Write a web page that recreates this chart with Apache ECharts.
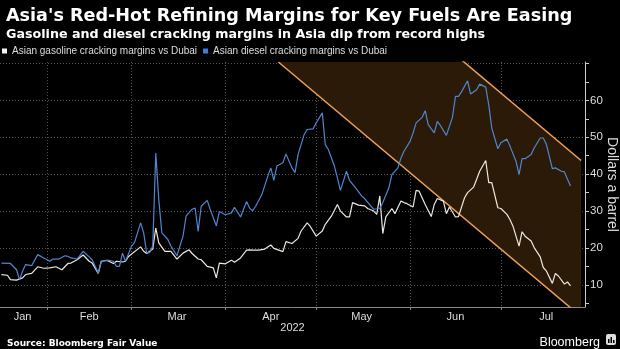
<!DOCTYPE html>
<html><head><meta charset="utf-8">
<script src="https://cdn.jsdelivr.net/npm/echarts@6/dist/echarts.min.js"></script>
<style>html,body{margin:0;padding:0;background:#000;}#c{width:620px;height:349px;}</style>
</head><body><div id="c"></div>
<script>
const gasolineDates = ['2022-01-17','2022-01-19','2022-01-20','2022-01-22','2022-01-24','2022-01-25','2022-01-27','2022-01-29','2022-01-31','2022-02-02','2022-02-04','2022-02-06','2022-02-08','2022-02-09','2022-02-11','2022-02-13','2022-02-15','2022-02-16','2022-02-18','2022-02-19','2022-02-21','2022-02-23','2022-02-24','2022-02-26','2022-02-27','2022-02-28','2022-03-04','2022-03-05','2022-03-06','2022-03-08','2022-03-09','2022-03-10','2022-03-12','2022-03-14','2022-03-16','2022-03-18','2022-03-20','2022-03-21','2022-03-23','2022-03-24','2022-03-26','2022-03-28','2022-03-29','2022-03-30','2022-04-01','2022-04-03','2022-04-04','2022-04-06','2022-04-08','2022-04-09','2022-04-10','2022-04-12','2022-04-14','2022-04-16','2022-04-17','2022-04-20','2022-04-21','2022-04-23','2022-04-25','2022-04-26','2022-04-28','2022-04-29','2022-05-01','2022-05-03','2022-05-04','2022-05-06','2022-05-08','2022-05-09','2022-05-11','2022-05-12','2022-05-13','2022-05-15','2022-05-17','2022-05-18','2022-05-20','2022-05-21','2022-05-22','2022-05-23','2022-05-24','2022-05-26','2022-05-27','2022-05-29','2022-05-30','2022-05-31','2022-06-02','2022-06-03','2022-06-04','2022-06-06','2022-06-08','2022-06-09','2022-06-10','2022-06-12','2022-06-13','2022-06-14','2022-06-16','2022-06-17','2022-06-19','2022-06-20','2022-06-22','2022-06-23','2022-06-24','2022-06-26','2022-06-27','2022-06-28','2022-06-30','2022-07-01','2022-07-03','2022-07-04','2022-07-05','2022-07-07','2022-07-08','2022-07-09','2022-07-11','2022-07-12','2022-07-14','2022-07-15','2022-07-16','2022-07-18','2022-07-19','2022-07-20','2022-07-22','2022-07-23','2022-07-24'];
const gasolineValues = [12.8,12.6,11.4,11.3,11.9,12.8,13.1,14.9,14.5,14.6,14.9,14.1,15.8,15.9,16.8,18.1,16.4,15.9,13.1,16.4,16.6,15.8,16.4,16.2,16.4,17.7,20.3,19.1,18.5,19.7,25.4,21.4,19.1,19.1,17.0,18.6,19.5,18.5,17.0,16.8,15.0,14.6,11.9,15.9,15.7,16.7,16.1,17.3,19.4,19.5,19.4,19.4,19.7,20.8,19.9,19.0,21.7,21.2,22.6,24.6,26.8,25.9,23.2,24.6,26.4,28.6,31.8,30.0,28.4,28.4,32.3,31.6,31.4,30.7,30.0,29.1,34.1,23.9,28.4,30.7,29.3,32.7,32.3,32.0,31.1,35.6,35.4,31.8,28.5,31.8,33.4,32.7,29.3,31.1,28.4,28.5,33.6,35.0,36.5,38.6,40.8,43.7,37.7,37.7,30.9,30.7,29.1,27.7,25.9,20.5,24.4,23.2,21.9,20.1,17.6,14.7,13.8,10.4,13.1,12.4,10.2,10.8,9.7];
const dieselDates = ['2022-01-17','2022-01-20','2022-01-22','2022-01-23','2022-01-24','2022-01-25','2022-01-27','2022-01-29','2022-01-31','2022-02-02','2022-02-03','2022-02-05','2022-02-07','2022-02-08','2022-02-09','2022-02-11','2022-02-13','2022-02-15','2022-02-16','2022-02-18','2022-02-19','2022-02-21','2022-02-23','2022-02-24','2022-02-25','2022-02-26','2022-02-27','2022-03-01','2022-03-02','2022-03-04','2022-03-05','2022-03-06','2022-03-07','2022-03-08','2022-03-09','2022-03-10','2022-03-11','2022-03-13','2022-03-14','2022-03-16','2022-03-18','2022-03-19','2022-03-21','2022-03-22','2022-03-23','2022-03-24','2022-03-26','2022-03-27','2022-03-29','2022-03-30','2022-04-01','2022-04-03','2022-04-04','2022-04-06','2022-04-08','2022-04-09','2022-04-10','2022-04-11','2022-04-13','2022-04-15','2022-04-16','2022-04-17','2022-04-18','2022-04-20','2022-04-21','2022-04-23','2022-04-24','2022-04-25','2022-04-27','2022-04-28','2022-04-30','2022-05-01','2022-05-03','2022-05-04','2022-05-05','2022-05-07','2022-05-08','2022-05-09','2022-05-11','2022-05-12','2022-05-14','2022-05-16','2022-05-17','2022-05-19','2022-05-20','2022-05-22','2022-05-23','2022-05-25','2022-05-26','2022-05-28','2022-05-29','2022-05-30','2022-06-01','2022-06-02','2022-06-03','2022-06-05','2022-06-06','2022-06-07','2022-06-09','2022-06-10','2022-06-11','2022-06-13','2022-06-15','2022-06-16','2022-06-17','2022-06-18','2022-06-20','2022-06-21','2022-06-23','2022-06-24','2022-06-26','2022-06-27','2022-06-28','2022-06-30','2022-07-01','2022-07-03','2022-07-04','2022-07-06','2022-07-07','2022-07-08','2022-07-09','2022-07-11','2022-07-12','2022-07-14','2022-07-15','2022-07-16','2022-07-18','2022-07-19','2022-07-21','2022-07-22','2022-07-23','2022-07-24'];
const dieselValues = [15.9,15.8,14.1,11.4,13.7,15.5,15.2,18.2,17.3,16.4,17.0,17.0,17.9,17.7,17.3,17.0,19.1,17.6,16.8,13.2,16.4,16.7,16.4,15.0,15.0,18.6,16.4,20.5,21.5,26.8,24.1,18.6,18.8,20.5,45.7,33.1,24.1,22.3,20.5,17.9,23.2,28.6,30.5,30.8,24.5,31.3,32.9,30.4,26.0,29.9,29.0,29.5,31.0,28.4,32.6,30.8,30.1,31.3,34.4,39.4,41.7,38.3,42.2,43.1,45.5,41.7,40.4,45.3,50.7,52.1,52.3,53.9,56.6,48.0,46.7,42.2,39.0,35.6,40.8,38.3,36.3,34.1,33.4,31.4,30.5,30.7,32.3,36.3,39.9,41.7,44.4,46.2,48.9,51.2,53.9,55.4,57.2,53.4,51.2,54.3,53.2,50.5,55.4,61.1,61.1,62.3,65.3,61.7,62.9,64.4,63.6,58.8,52.5,46.9,48.5,49.5,47.6,43.5,39.9,44.2,44.2,45.3,47.1,49.8,49.8,48.2,41.5,41.7,40.8,40.6,38.6,36.8];
const bandDates = ['2022-04-18 12:00','2022-07-27 12:00'];
const bandLowerValues = [70.4, 1.4];
const bandUpperValues = [112.7, 43.7];
const monthTickDates = ['2022-02-01','2022-03-01','2022-04-01','2022-05-01','2022-06-01','2022-07-01'];
const monthLabelDates = ['2022-01-24','2022-02-15','2022-03-16','2022-04-16','2022-05-16','2022-06-16','2022-07-16'];
const monthNames = ['Jan','Feb','Mar','Apr','May','Jun','Jul','Aug','Sep','Oct','Nov','Dec'];
const yLabelValues = [10,20,30,40,50,60];
const yTickValues = [5,10,15,20,25,30,35,40,45,50,55,60,65,70];
const yGridValues = [10,20,30,40,50,60,70];
const xRange = ['2022-01-16 13:00','2022-07-28 19:00'];
const yRange = [4.0, 70.4];

function ts(s){
  const parts = s.split(' ');
  const [y,m,d] = parts[0].split('-').map(Number);
  let h = 0, mi = 0;
  if (parts[1]) { [h, mi] = parts[1].split(':').map(Number); }
  return new Date(y, m-1, d, h, mi).getTime();
}
const pair = (dates, vals) => dates.map((d,i) => [ts(d), vals[i]]);

const chart = echarts.init(document.getElementById('c'));
const orange = '#eda05a';
const gridColor = '#555';
chart.setOption({
  backgroundColor: '#000',
  animation: false,
  title: [
    {text: "Asia's Red-Hot Refining Margins for Key Fuels Are Easing", left: 1, top: 2,
     textStyle: {color:'#fff', fontFamily:'DejaVu Sans', fontWeight:'bold', fontSize:17.6}},
    {text: 'Gasoline and diesel cracking margins in Asia dip from record highs', left: 1, top: 23,
     textStyle: {color:'#fff', fontFamily:'DejaVu Sans', fontWeight:'bold', fontSize:12.7}},
    {text: 'Source: Bloomberg Fair Value', left: 2, top: 334,
     textStyle: {color:'#fff', fontFamily:'DejaVu Sans', fontWeight:'bold', fontSize:9}},
    {text: 'Bloomberg', right: 15, top: 331,
     textStyle: {color:'#fff', fontFamily:'Liberation Sans', fontWeight:'normal', fontSize:12.5}}
  ],
  legend: {
    left: 2, top: 46, padding: 0, icon: 'rect', itemWidth: 5, itemHeight: 5, itemGap: 6,
    textStyle: {color:'#ddd', fontFamily:'Liberation Sans', fontSize:10},
    data: ['Asian gasoline cracking margins vs Dubai','Asian diesel cracking margins vs Dubai']
  },
  grid: {left: 0, right: 35, top: 62, bottom: 42, outerBoundsMode: 'none', containLabel: false},
  xAxis: {
    type: 'value', min: ts(xRange[0]), max: ts(xRange[1]),
    axisLine: {show:true, lineStyle:{color:'#888', width:1}},
    axisTick: {show:true, customValues: monthTickDates.map(ts), length:3, lineStyle:{color:'#888'}},
    axisLabel: {customValues: monthLabelDates.map(ts), formatter: v => monthNames[new Date(v).getMonth()],
      color:'#ddd', fontFamily:'Liberation Sans', fontSize:11, margin:4},
    splitLine: {show:true, lineStyle:{color:gridColor, width:1, type:[1,2]}},
    name: '2022', nameLocation: 'middle', nameGap: 15, nameMoveOverlap: false,
    nameTextStyle: {color:'#ddd', fontFamily:'Liberation Sans', fontSize:11}
  },
  yAxis: [
    {type:'value', position:'right', min:yRange[0], max:yRange[1],
     axisLine:{show:true, lineStyle:{color:'#ccc', width:1}},
     axisTick:{show:true, customValues:yTickValues, length:4, lineStyle:{color:'#ccc'}},
     axisLabel:{customValues:yLabelValues, color:'#ddd', fontFamily:'Liberation Sans', fontSize:11.5, margin:5},
     splitLine:{show:false},
     name:'Dollars a barrel', nameLocation:'middle', nameRotate:-90, nameGap:20, nameMoveOverlap:false,
     nameTextStyle:{color:'#ddd', fontFamily:'Liberation Sans', fontSize:14}},
    {type:'value', position:'left', min:yRange[0], max:yRange[1],
     axisLine:{show:false}, axisTick:{show:false, customValues:yGridValues}, axisLabel:{show:false},
     splitLine:{show:true, lineStyle:{color:gridColor, width:1, type:[1,2]}}}
  ],
  series: [
    {type:'custom', name:'band', clip:true, silent:true, z:1,
     data: pair(bandDates, bandLowerValues),
     renderItem: (params, api) => {
       if (params.dataIndex !== 0) return null;
       const lower = bandDates.map((d,i) => api.coord([ts(d), bandLowerValues[i]]));
       const upper = bandDates.map((d,i) => api.coord([ts(d), bandUpperValues[i]])).reverse();
       return {type:'polygon', shape:{points: lower.concat(upper)}, style:{fill:'#2b1a07'}};
     }},
    {type:'line', name:'bandLower', data: pair(bandDates, bandLowerValues), symbol:'none', z:3,
     lineStyle:{color:orange, width:1.5}, silent:true},
    {type:'line', name:'bandUpper', data: pair(bandDates, bandUpperValues), symbol:'none', z:3,
     lineStyle:{color:orange, width:1.5}, silent:true},
    {type:'line', name:'Asian gasoline cracking margins vs Dubai', data: pair(gasolineDates, gasolineValues),
     symbol:'none', z:4, lineStyle:{color:'#ece8e0', width:1.2}, itemStyle:{color:'#f2f2f2'}},
    {type:'line', name:'Asian diesel cracking margins vs Dubai', data: pair(dieselDates, dieselValues),
     symbol:'none', z:5, lineStyle:{color:'#4f86cf', width:1.2}, itemStyle:{color:'#3d7fe0'}}
  ],
  graphic: [{
    type:'group', left: 606, top: 334,
    children: [
      {type:'rect', shape:{x:0,y:0,width:10,height:11,r:2}, style:{fill:'#ddd'}},
      {type:'rect', shape:{x:2,y:5,width:1.5,height:4}, style:{fill:'#000'}},
      {type:'rect', shape:{x:4.5,y:3,width:1.5,height:6}, style:{fill:'#000'}},
      {type:'rect', shape:{x:7,y:6,width:1.5,height:3}, style:{fill:'#000'}}
    ]
  }]
});
</script></body></html>
